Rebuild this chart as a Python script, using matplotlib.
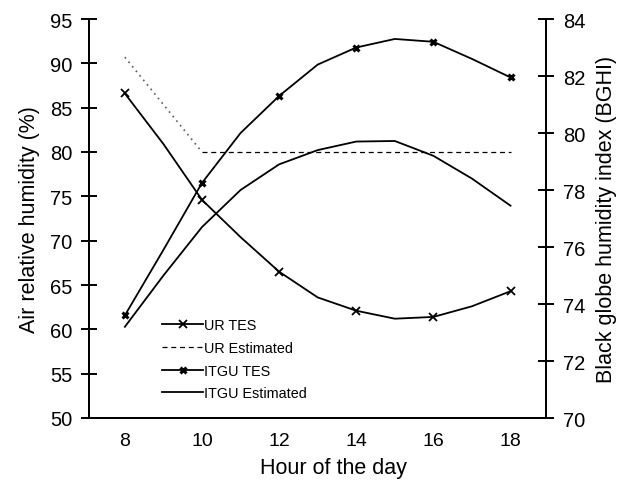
import matplotlib
matplotlib.use("Agg")
import matplotlib.pyplot as plt

plt.rcParams['font.family'] = ['Liberation Sans', 'DejaVu Sans']

# hourly values, markers only at the even hours
hours = [8, 9, 10, 11, 12, 13, 14, 15, 16, 17, 18]
ur_tes = [86.6, 80.9, 74.6, 70.4, 66.5, 63.6, 62.1, 61.2, 61.4, 62.6, 64.3]
ur_est_hours = [8, 10, 18]
ur_est = [90.7, 80.0, 80.0]
itgu_tes = [73.6, 75.9, 78.25, 80.0, 81.3, 82.4, 83.0, 83.3, 83.2, 82.6, 81.95]
itgu_est = [73.2, 75.0, 76.7, 78.0, 78.9, 79.4, 79.7, 79.72, 79.2, 78.4, 77.45]

left_ticks = [50, 55, 60, 65, 70, 75, 80, 85, 90, 95]
right_ticks = [70, 72, 74, 76, 78, 80, 82, 84]
x_ticks = [8, 10, 12, 14, 16, 18]

fig = plt.figure(figsize=(6.28, 4.89), dpi=100)
ax = fig.add_axes([89 / 628, 1 - 419 / 489, (546 - 89) / 628, (419 - 20) / 489])
ax2 = ax.twinx()

lw = 1.3
l1, = ax.plot(hours, ur_tes, color='black', lw=lw, marker='x', ms=5.5, mew=1.3,
              markevery=2, label='UR TES')
ax.plot(ur_est_hours[:2], ur_est[:2], color='0.35', lw=1.2, ls=(0, (1, 2.5)))
l2, = ax.plot(ur_est_hours[1:], ur_est[1:], color='black', lw=0.9, ls=(0, (4, 3)),
              label='UR Estimated')
l3, = ax2.plot(hours, itgu_tes, color='black', lw=lw, marker='x', ms=5, mew=2.2,
               markevery=2, label='ITGU TES')
l4, = ax2.plot(hours, itgu_est, color='black', lw=lw, label='ITGU Estimated')

ax.set_xlim(7.07, 18.92)
ax.set_ylim(50, 95)
ax2.set_ylim(70, 84)
ax.set_xticks(x_ticks)
ax.set_yticks(left_ticks)
ax2.set_yticks(right_ticks)

for a in (ax, ax2):
    for s in a.spines.values():
        s.set_linewidth(1.4)
    a.spines['top'].set_visible(False)
ax.tick_params(axis='x', length=0, pad=10, labelsize=14)
ax.tick_params(axis='y', direction='inout', length=12, width=1.4, labelsize=14.5, pad=6)
ax2.tick_params(axis='y', direction='inout', length=12, width=1.4, labelsize=14.5, pad=6)

ax.set_xlabel('Hour of the day', fontsize=15.5, labelpad=6)
ax.xaxis.label.set_x(0.535)
ax.set_ylabel('Air relative humidity (%)', fontsize=15.5, labelpad=7)
ax2.set_ylabel('Black globe humidity index (BGHI)', fontsize=15.5, labelpad=8)

ax.legend(handles=[l1, l2, l3, l4], loc='lower left', bbox_to_anchor=(0.148, 0.03),
          frameon=False, fontsize=10.4, handlelength=2.8, handletextpad=0.1,
          labelspacing=0.6, borderaxespad=0)

fig.savefig('out.png', dpi=100)
